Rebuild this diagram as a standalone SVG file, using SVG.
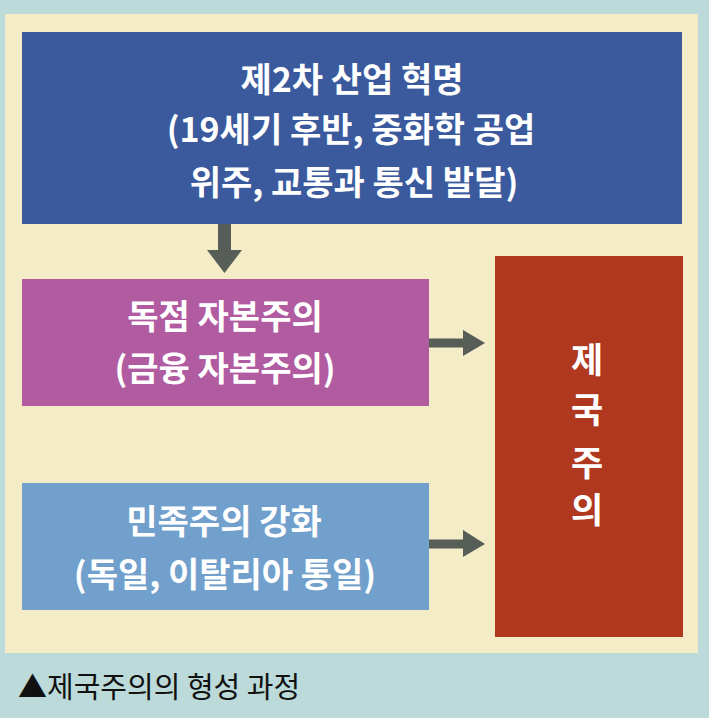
<svg xmlns="http://www.w3.org/2000/svg" width="709" height="718" viewBox="0 0 709 718">
<style>
.t{font-family:"Noto Sans CJK KR","Noto Sans CJK SC",sans-serif;font-weight:bold;fill:#ffffff;text-anchor:middle}
.b{font-size:34px}
.v{font-size:35px}
.arr{fill:#575e58}
.cap{font-family:"Noto Sans CJK KR","Noto Sans CJK SC",sans-serif;font-size:29px;fill:#111111}
</style>
<rect x="0" y="0" width="709" height="718" fill="#bcdad9"/>
<rect x="5" y="14" width="693" height="639" fill="#f3ecc6"/>
<g id="node-industrial">
<rect x="22" y="32" width="660" height="192" fill="#3a5a9d"/>
<text class="t b" x="352" y="92">제2차 산업 혁명</text>
<text class="t b" x="351" y="142">(19세기 후반, 중화학 공업</text>
<text class="t b" x="354" y="195">위주, 교통과 통신 발달)</text>
</g>
<g id="node-monopoly">
<rect x="22" y="279" width="407" height="127" fill="#b15ba1"/>
<text class="t b" x="225" y="329">독점 자본주의</text>
<text class="t b" x="225" y="381">(금융 자본주의)</text>
</g>
<g id="node-nationalism">
<rect x="22" y="483" width="407" height="127" fill="#72a0cd"/>
<text class="t b" x="224" y="534">민족주의 강화</text>
<text class="t b" x="225" y="587">(독일, 이탈리아 통일)</text>
</g>
<g id="node-imperialism">
<rect x="495" y="256" width="188" height="381" fill="#b0381f"/>
<text class="t v" x="587" y="373">제</text>
<text class="t v" x="587" y="423">국</text>
<text class="t v" x="587" y="476">주</text>
<text class="t v" x="587" y="523">의</text>
</g>
<g id="connectors">
<polygon class="arr" points="218,224 231,224 231,250 242,250 224.5,273 207,250 218,250"/>
<polygon class="arr" points="429,338.5 463,338.5 463,330 485,343 463,356 463,347.5 429,347.5"/>
<polygon class="arr" points="429,539.5 463,539.5 463,530 485,544 463,557 463,548.5 429,548.5"/>
</g>
<text class="cap" x="18" y="698">▲제국주의의 형성 과정</text>
</svg>
